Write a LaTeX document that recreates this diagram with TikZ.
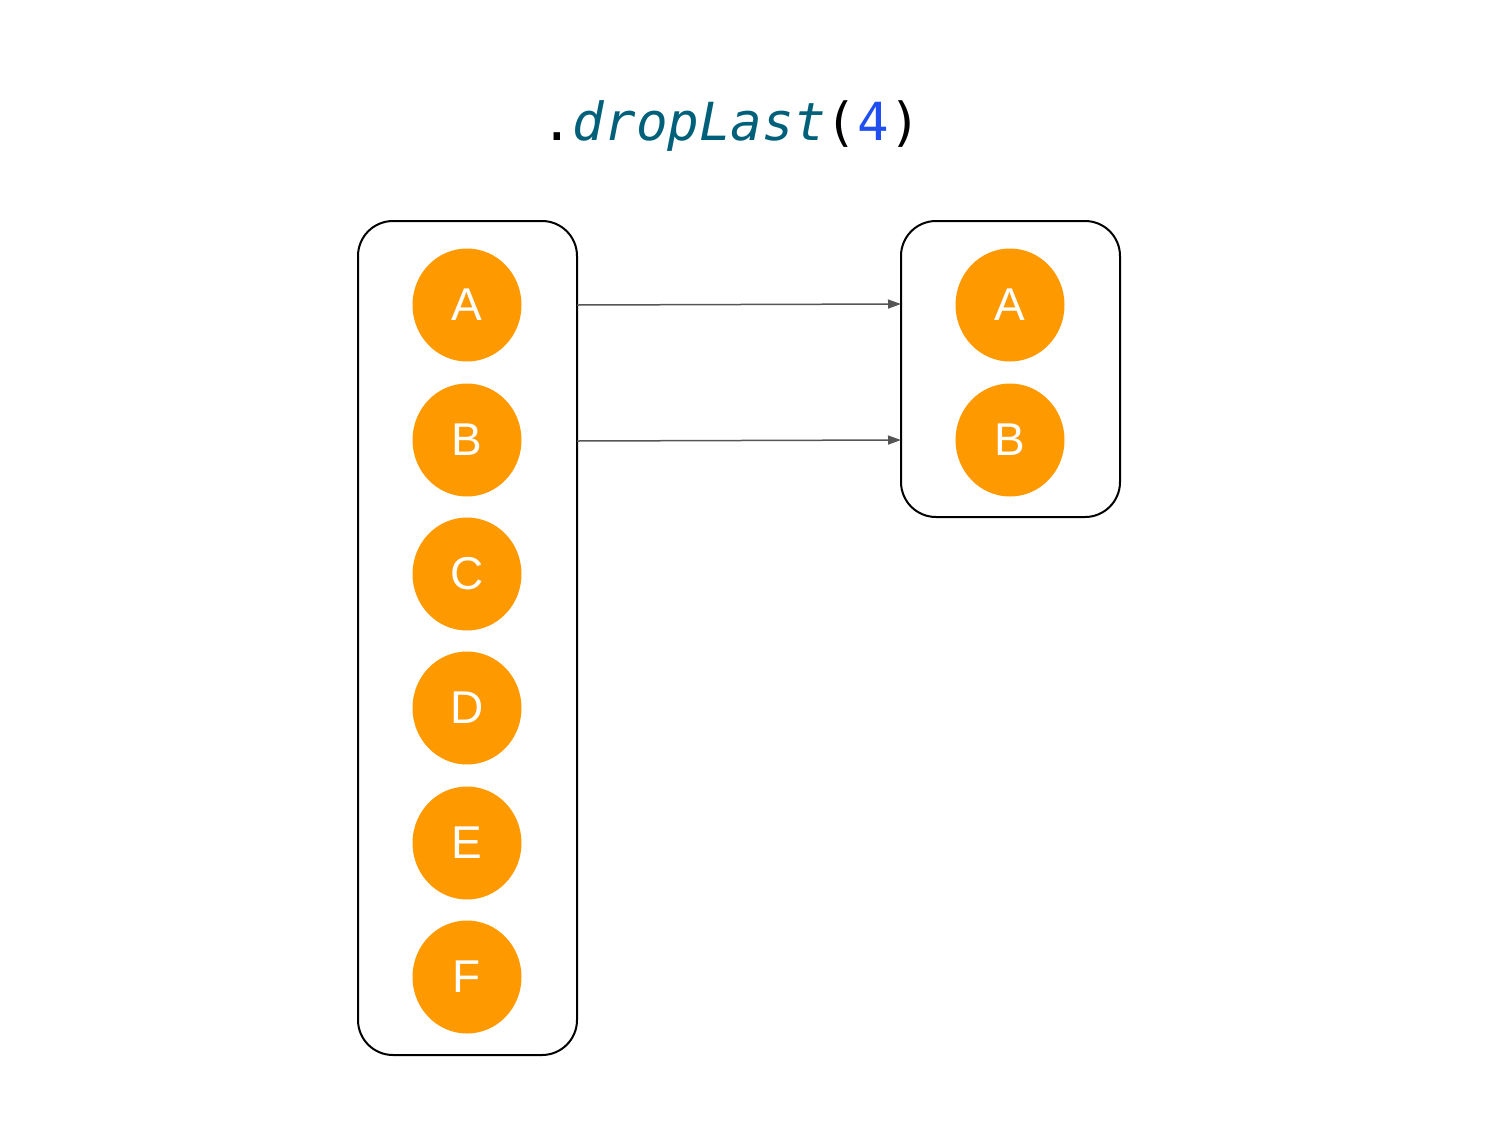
\documentclass[tikz,border=0pt]{standalone}
\usepackage{fontspec}
\setmainfont{Liberation Sans}
\newfontfamily\codefont{DejaVu Sans Mono}
\usetikzlibrary{arrows.meta,shapes.geometric}
\definecolor{orangeball}{HTML}{FF9900}
\definecolor{codeteal}{HTML}{00607A}
\definecolor{codeblue}{HTML}{1F4FF0}
\definecolor{arrowgrey}{HTML}{555555}
\begin{document}
\begin{tikzpicture}[x=1pt,y=-1pt,
  container/.style={draw=black,line width=2pt,rounded corners=35pt},
  ball/.style={ellipse,fill=orangeball,minimum width=109pt,minimum height=113pt,inner sep=0pt,
    text=white,font=\fontsize{46}{46}\selectfont},
  conn/.style={draw=arrowgrey,line width=1.5pt,-{Triangle[length=13pt,width=9pt]}}]
\useasboundingbox (0,0) rectangle (1500,1125);
\node[font=\codefont\fontsize{52.5}{52.5}\selectfont,anchor=base] (title) at (731,140)
  {.\textcolor{codeteal}{\itshape dropLast}(\textcolor{codeblue}{4})};
\draw[container] (358,221) rectangle (577,1055);
\draw[container] (901,221) rectangle (1120,517);
\coordinate (lbA) at (577,305);
\coordinate (lbB) at (577,441);
\coordinate (rbA) at (901,304);
\coordinate (rbB) at (901,440);
\node[ball] (lA) at (467,305) {A};
\node[ball] (lB) at (467,440) {B};
\node[ball] (lC) at (467,574) {C};
\node[ball] (lD) at (467,708) {D};
\node[ball] (lE) at (467,843) {E};
\node[ball] (lF) at (467,977) {F};
\node[ball] (rA) at (1010,305) {A};
\node[ball] (rB) at (1010,440) {B};
\draw[conn] (lbA) -- (rbA);
\draw[conn] (lbB) -- (rbB);
\end{tikzpicture}
\end{document}
